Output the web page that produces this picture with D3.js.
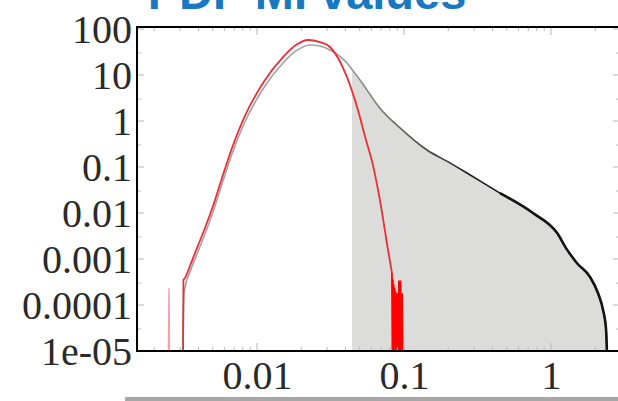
<!DOCTYPE html>
<html><head><meta charset="utf-8">
<script src="https://cdn.jsdelivr.net/npm/d3@7"></script>
<style>body{margin:0;background:#fff}svg{display:block}</style>
</head><body><svg id="c" width="618" height="401"></svg>
<script>
// ---------------- data ----------------
const chartTitle = "PDF MI values";
const yTickValues = [1e-5, 1e-4, 1e-3, 1e-2, 1e-1, 1, 10, 100];
const yTickLabels = ["1e-05", "0.0001", "0.001", "0.01", "0.1", "1", "10", "100"];
const xTickValues = [0.01, 0.1, 1];
const xTickLabels = ["0.01", "0.1", "1"];
const xDomain = [0.001527, 2.947];
const yDomain = [1e-5, 110.5];

// full distribution (gray/black curve)
const allX = [0.00314, 0.00318, 0.003236, 0.003499, 0.003906, 0.004429, 0.005020, 0.005781, 0.006761, 0.008035, 0.01099, 0.01503, 0.01842, 0.0229, 0.02685, 0.03141, 0.0409, 0.0443, 0.0502, 0.0686, 0.0939, 0.1434, 0.2054, 0.2680, 0.4497, 0.7539, 1.0985, 1.2854, 1.504, 1.84, 2.09, 2.26, 2.37, 2.40];
const allY = [1e-5, 1.5e-4, 2.34e-4, 5.2e-4, 1.28e-3, 3.49e-3, 0.0105, 0.0427, 0.192, 0.778, 4.96, 18.2, 33.3, 44.9, 42.6, 34.9, 18.2, 13.2, 7.8, 1.9, 0.71, 0.234, 0.123, 0.074, 0.027, 0.01, 0.0037, 1.6e-3, 8.1e-4, 4.1e-4, 1.8e-4, 7.8e-5, 2.9e-5, 1e-5];
const shadeFrom = 0.0443;

// null-model distribution (red curve)
const redSpikeX = [0.00250, 0.00252, 0.00254];
const redSpikeY = [1e-5, 2.3e-4, 1e-5];
const redX = [0.00314, 0.00316, 0.003236, 0.003499, 0.003906, 0.004429, 0.005020, 0.005781, 0.006761, 0.008035, 0.01099, 0.01503, 0.01842, 0.02223, 0.02685, 0.03141, 0.0409, 0.0486, 0.0551, 0.0615, 0.0686, 0.0778, 0.0828];
const redY = [1e-5, 3.5e-4, 3.86e-4, 7.05e-4, 1.73e-3, 4.72e-3, 0.0142, 0.0577, 0.259, 1.05, 6.7, 24.6, 44.9, 57.6, 52, 40.6, 9.1, 1.74, 0.39, 0.11, 0.019, 1.6e-3, 5e-4];
const redTailX = [0.0828, 0.0834, 0.0840, 0.0846, 0.0852, 0.0858, 0.0864, 0.0870, 0.0876, 0.0882, 0.0888, 0.0894, 0.0900, 0.0906, 0.0912, 0.0918, 0.0924, 0.0930, 0.0936, 0.0942, 0.0948, 0.0954, 0.0960, 0.0966, 0.0972, 0.0978];
const redTailY = [5e-4, 1e-5, 3.6e-4, 1e-5, 2.8e-4, 1e-5, 2.3e-4, 1e-5, 2e-4, 1e-5, 1.8e-4, 1e-5, 1.8e-4, 1e-5, 1.8e-4, 1e-5, 3.4e-4, 1e-5, 1.8e-4, 1e-5, 3.4e-4, 1e-5, 1.8e-4, 1e-5, 1.8e-4, 1e-5];

// ---------------- layout ----------------
const W = 618, H = 401;
const L = 137, R = 620, T = 27, B = 351;
const svg = d3.select("#c");

const x = d3.scaleLog().domain(xDomain).range([L, R]);
const y = d3.scaleLog().domain(yDomain).range([B, T]);

const zip = (a, b) => a.map((v, i) => [v, b[i]]);
const allPts = zip(allX, allY);
const shadePts = allPts.filter(d => d[0] >= shadeFrom);

const defs = svg.append("defs");
defs.append("clipPath").attr("id", "pc")
  .append("rect").attr("x", L).attr("y", T).attr("width", R - L).attr("height", B - T);
const grad = defs.append("linearGradient").attr("id", "blk")
  .attr("gradientUnits", "userSpaceOnUse")
  .attr("x1", x(0.035)).attr("x2", x(0.3)).attr("y1", 0).attr("y2", 0);
grad.append("stop").attr("offset", 0).attr("stop-color", "#a2a2a2");
grad.append("stop").attr("offset", 1).attr("stop-color", "#1a1a1a");

const plot = svg.append("g").attr("clip-path", "url(#pc)");

// shaded area
plot.append("path")
  .datum(shadePts)
  .attr("fill", "#dcdcda")
  .attr("d", d3.area().x(d => x(d[0])).y0(B).y1(d => y(d[1])).curve(d3.curveMonotoneX));

// inner ticks
const tickCol = "#b8b8b8";
const xMinor = x.ticks();
const yMinor = [];
yTickValues.forEach(v => { if (v * 3 <= yDomain[1]) yMinor.push(v * 3); });

const tk = svg.append("g").attr("stroke", tickCol).attr("stroke-width", 1);
xMinor.forEach(v => {
  const major = Math.abs(Math.log10(v) - Math.round(Math.log10(v))) < 1e-9;
  const len = major ? 8 : 4;
  tk.append("line").attr("x1", x(v)).attr("x2", x(v)).attr("y1", B).attr("y2", B - len);
  tk.append("line").attr("x1", x(v)).attr("x2", x(v)).attr("y1", T).attr("y2", T + len);
});
yTickValues.forEach(v => {
  tk.append("line").attr("x1", L).attr("x2", L + 7).attr("y1", y(v)).attr("y2", y(v));
  tk.append("line").attr("x1", R).attr("x2", R - 7).attr("y1", y(v)).attr("y2", y(v));
});
yMinor.forEach(v => {
  tk.append("line").attr("x1", L).attr("x2", L + 4).attr("y1", y(v)).attr("y2", y(v));
  tk.append("line").attr("x1", R).attr("x2", R - 4).attr("y1", y(v)).attr("y2", y(v));
});

// full curve
const lineGen = d3.line().x(d => x(d[0])).y(d => y(d[1])).curve(d3.curveMonotoneX);
plot.append("path").datum(allPts)
  .attr("fill", "none").attr("stroke", "url(#blk)").attr("stroke-width", 1.6)
  .attr("d", lineGen);
plot.append("path").datum(allPts.filter(d => d[0] >= 0.4497))
  .attr("fill", "none").attr("stroke", "#141414").attr("stroke-width", 2.6)
  .attr("d", lineGen);

// red curve
const linLine = d3.line().x(d => x(d[0])).y(d => y(d[1]));
plot.append("path").datum(zip(redSpikeX, redSpikeY))
  .attr("fill", "none").attr("stroke", "#f2a2aa").attr("stroke-width", 1.5)
  .attr("d", linLine);
plot.append("path").datum(zip(redX, redY))
  .attr("fill", "none").attr("stroke", "#ec2e36").attr("stroke-width", 1.8)
  .attr("d", lineGen);
plot.append("path").datum(zip(redTailX, redTailY))
  .attr("fill", "none").attr("stroke", "#ff0000").attr("stroke-width", 1.8)
  .attr("d", linLine);

// frame
const frame = svg.append("g").attr("stroke", "#000").attr("stroke-width", 2).attr("fill", "none");
frame.append("line").attr("x1", L).attr("x2", L).attr("y1", T - 1).attr("y2", B + 1);
frame.append("line").attr("x1", L - 1).attr("x2", W + 2).attr("y1", T).attr("y2", T);
frame.append("line").attr("x1", L - 1).attr("x2", W + 2).attr("y1", B).attr("y2", B);

// axes labels
const yAxis = d3.axisLeft(y).tickValues(yTickValues).tickFormat((d, i) => yTickLabels[i]).tickSize(0).tickPadding(5);
const gy = svg.append("g").attr("transform", `translate(${L},0)`).call(yAxis);
gy.select(".domain").remove();
gy.selectAll("text").attr("font-family", "'Liberation Serif', 'Times New Roman', serif")
  .attr("font-size", 40).attr("fill", "#2a2a2a").attr("dy", "0.33em");

const xAxis = d3.axisBottom(x).tickValues(xTickValues).tickFormat((d, i) => xTickLabels[i]).tickSize(0).tickPadding(10);
const gx = svg.append("g").attr("transform", `translate(0,${B})`).call(xAxis);
gx.select(".domain").remove();
gx.selectAll("text").attr("font-family", "'Liberation Serif', 'Times New Roman', serif")
  .attr("font-size", 40).attr("fill", "#2a2a2a").attr("dy", "0.71em");

// title (partly cut off at the top, as in the reference)
svg.append("text").attr("x", 307).attr("y", 9).attr("text-anchor", "middle")
  .attr("font-family", "'Liberation Sans', Arial, sans-serif").attr("font-weight", "bold")
  .attr("font-size", 47).attr("fill", "#1878c2").text(chartTitle);

// bottom separator
svg.append("rect").attr("x", 125).attr("y", 397).attr("width", W - 125).attr("height", 4).attr("fill", "#a6a6a6");
</script>
</body></html>
